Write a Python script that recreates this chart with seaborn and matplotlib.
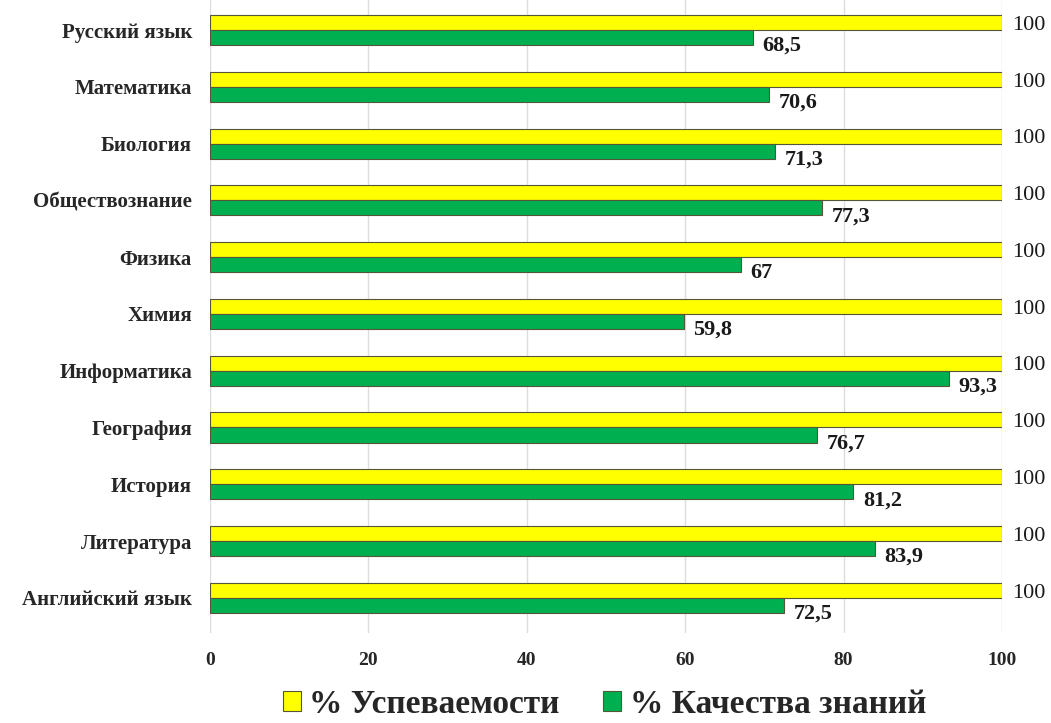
import matplotlib
matplotlib.use("Agg")
import matplotlib.pyplot as plt
from matplotlib.font_manager import FontProperties
import seaborn as sns
import pandas as pd

subjects = ["Русский язык", "Математика", "Биология", "Обществознание", "Физика",
            "Химия", "Информатика", "География", "История", "Литература",
            "Английский язык"]
success = [100, 100, 100, 100, 100, 100, 100, 100, 100, 100, 100]
quality = [68.5, 70.6, 71.3, 77.3, 67, 59.8, 93.3, 76.7, 81.2, 83.9, 72.5]
series_names = ["% Успеваемости", "% Качества знаний"]
colors = ["#FFFF00", "#00B050"]
x_ticks = [0, 20, 40, 60, 80, 100]

sns.set_theme(style="white")
plt.rcParams["font.family"] = ["Liberation Serif", "DejaVu Serif"]
plt.rcParams["font.weight"] = "bold"

df = pd.DataFrame({
    "subject": subjects * 2,
    "series": [series_names[0]] * len(subjects) + [series_names[1]] * len(subjects),
    "value": success + quality,
})

fig = plt.figure(figsize=(10.51, 7.23), dpi=100)
ax = fig.add_axes([0.1998, 0.1245, 0.7536, 0.8755])

sns.barplot(data=df, x="value", y="subject", hue="series", order=subjects,
            hue_order=series_names, palette=colors, saturation=1, orient="h",
            width=0.53, edgecolor="#55553a", linewidth=0.8, ax=ax, legend=False)

ax.set_xlim(0, 100)
ax.set_ylim(10.62, -0.53)
ax.set_xticks(x_ticks)
ax.set_xticklabels([str(t) for t in x_ticks], fontsize=14, fontweight="bold")
ax.tick_params(axis="x", length=0, pad=14)
ax.tick_params(axis="y", length=0, pad=13)
for lbl in ax.get_yticklabels():
    lbl.set_fontsize(15)
    lbl.set_fontweight("bold")
ax.set_xlabel("")
ax.set_ylabel("")
ax.grid(axis="x", color="#DDDDDD", linewidth=1)
ax.set_axisbelow(True)
for s in ax.spines.values():
    s.set_visible(False)


def fmt(v):
    return f"{v:g}".replace(".", ",")


# value labels: success labels sit to the right, quality labels slightly lower
for container, vals, dy, weight in zip(ax.containers, [success, quality], [-2, -6], ["normal", "bold"]):
    for patch, v in zip(container.patches, vals):
        yc = patch.get_y() + patch.get_height() / 2
        ax.annotate(fmt(v), xy=(v, yc), xytext=(7, dy), textcoords="offset points",
                    ha="left", va="center", fontsize=16, fontweight=weight,
                    color="#1a1a1a", annotation_clip=False)

handles = [plt.Rectangle((0, 0), 1, 1, facecolor=c, edgecolor="#55553a", linewidth=0.8)
           for c in colors]
legend_font = FontProperties(family="Liberation Serif", weight="bold", size=24)
fig.legend(handles, series_names, loc="center", bbox_to_anchor=(0.575, 0.026),
           ncol=2, frameon=False, handlelength=0.55, handleheight=0.55,
           handletextpad=0.25, columnspacing=1.3, prop=legend_font)

fig.savefig("out.png", dpi=100)
